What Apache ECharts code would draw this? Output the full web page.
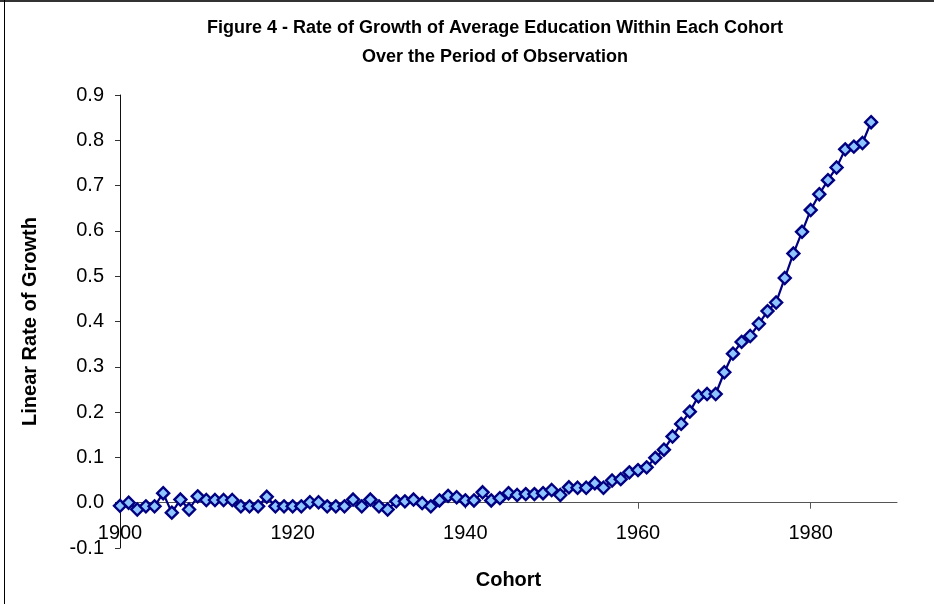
<!DOCTYPE html>
<html>
<head>
<meta charset="utf-8">
<script src="https://cdn.jsdelivr.net/npm/echarts@6/dist/echarts.min.js"></script>
<style>
  html, body { margin: 0; padding: 0; background: #fff; }
  #chart { width: 934px; height: 604px; }
</style>
</head>
<body>
<div id="chart"></div>
<script>
// Cohort birth years
const cohorts = [
  1900, 1901, 1902, 1903, 1904, 1905, 1906, 1907, 1908, 1909,
  1910, 1911, 1912, 1913, 1914, 1915, 1916, 1917, 1918, 1919,
  1920, 1921, 1922, 1923, 1924, 1925, 1926, 1927, 1928, 1929,
  1930, 1931, 1932, 1933, 1934, 1935, 1936, 1937, 1938, 1939,
  1940, 1941, 1942, 1943, 1944, 1945, 1946, 1947, 1948, 1949,
  1950, 1951, 1952, 1953, 1954, 1955, 1956, 1957, 1958, 1959,
  1960, 1961, 1962, 1963, 1964, 1965, 1966, 1967, 1968, 1969,
  1970, 1971, 1972, 1973, 1974, 1975, 1976, 1977, 1978, 1979,
  1980, 1981, 1982, 1983, 1984, 1985, 1986, 1987
];

// Linear rate of growth of average education for each cohort
const growthRate = [
  -0.007, 0.000, -0.015, -0.008, -0.008, 0.021, -0.022, 0.007, -0.015, 0.014,
  0.006, 0.006, 0.006, 0.006, -0.008, -0.008, -0.008, 0.013, -0.008, -0.008,
  -0.008, -0.008, 0.001, 0.001, -0.008, -0.008, -0.008, 0.007, -0.008, 0.007,
  -0.008, -0.015, 0.003, 0.003, 0.007, -0.001, -0.008, 0.005, 0.015, 0.012,
  0.005, 0.005, 0.023, 0.005, 0.010, 0.021, 0.017, 0.019, 0.019, 0.021,
  0.028, 0.017, 0.034, 0.033, 0.033, 0.043, 0.033, 0.049, 0.052, 0.067,
  0.072, 0.078, 0.099, 0.117, 0.146, 0.174, 0.201, 0.235, 0.240, 0.240,
  0.288, 0.329, 0.355, 0.368, 0.395, 0.423, 0.442, 0.496, 0.550, 0.598,
  0.646, 0.681, 0.712, 0.740, 0.780, 0.786, 0.794, 0.840
];

// Labelled years on the cohort axis
const xTickYears = [1900, 1920, 1940, 1960, 1980];

const titleLines = [
  'Figure 4 - Rate of Growth of Average Education Within Each Cohort',
  'Over the Period of Observation'
];

const FONT = '"Liberation Sans", Arial, sans-serif';

const chart = echarts.init(document.getElementById('chart'), null, { renderer: 'canvas' });

chart.setOption({
  backgroundColor: '#ffffff',
  animation: false,
  title: {
    text: titleLines.join('\n'),
    left: 490,
    top: 9,
    textAlign: 'center',
    textStyle: {
      fontFamily: FONT,
      fontWeight: 'bold',
      fontSize: 18,
      lineHeight: 29,
      color: '#000'
    }
  },
  graphic: [
    // chart frame (top and left edges)
    { type: 'line', shape: { x1: 0, y1: 1, x2: 934, y2: 1 }, style: { stroke: '#333', lineWidth: 2 } },
    { type: 'line', shape: { x1: 4.5, y1: 0, x2: 4.5, y2: 604 }, style: { stroke: '#000', lineWidth: 1 } }
  ],
  grid: { left: 120, right: 37, top: 95, bottom: 56, containLabel: false, outerBoundsMode: 'none' },
  xAxis: {
    type: 'value',
    min: 1900,
    max: 1990,
    interval: 10,
    name: 'Cohort',
    nameLocation: 'middle',
    nameGap: 22,
    nameTextStyle: { fontFamily: FONT, fontWeight: 'bold', fontSize: 20, color: '#000' },
    axisLine: { onZero: true, lineStyle: { color: '#555', width: 1 } },
    axisTick: { show: true, inside: false, length: 6, customValues: xTickYears, lineStyle: { color: '#555' } },
    axisLabel: {
      customValues: xTickYears,
      margin: -25,
      fontFamily: FONT,
      fontSize: 20,
      color: '#000',
      formatter: v => String(v)
    },
    splitLine: { show: false }
  },
  yAxis: {
    type: 'value',
    min: -0.1,
    max: 0.9,
    interval: 0.1,
    name: 'Linear Rate of Growth',
    nameLocation: 'middle',
    nameGap: 80,
    nameRotate: 90,
    nameTextStyle: { fontFamily: FONT, fontWeight: 'bold', fontSize: 20, color: '#000' },
    axisLine: { show: true, lineStyle: { color: '#111', width: 1 } },
    axisTick: { show: true, inside: false, length: 5, lineStyle: { color: '#333' } },
    axisLabel: {
      margin: 16,
      fontFamily: FONT,
      fontSize: 20,
      color: '#000',
      formatter: v => v.toFixed(1)
    },
    splitLine: { show: false }
  },
  series: [{
    type: 'line',
    data: cohorts.map((c, i) => [c, growthRate[i]]),
    symbol: 'diamond',
    symbolSize: 12,
    showAllSymbol: true,
    lineStyle: { color: '#000080', width: 2.2 },
    itemStyle: { color: '#8EC4FF', borderColor: '#000080', borderWidth: 2.4 },
    z: 3
  }]
});
</script>
</body>
</html>
